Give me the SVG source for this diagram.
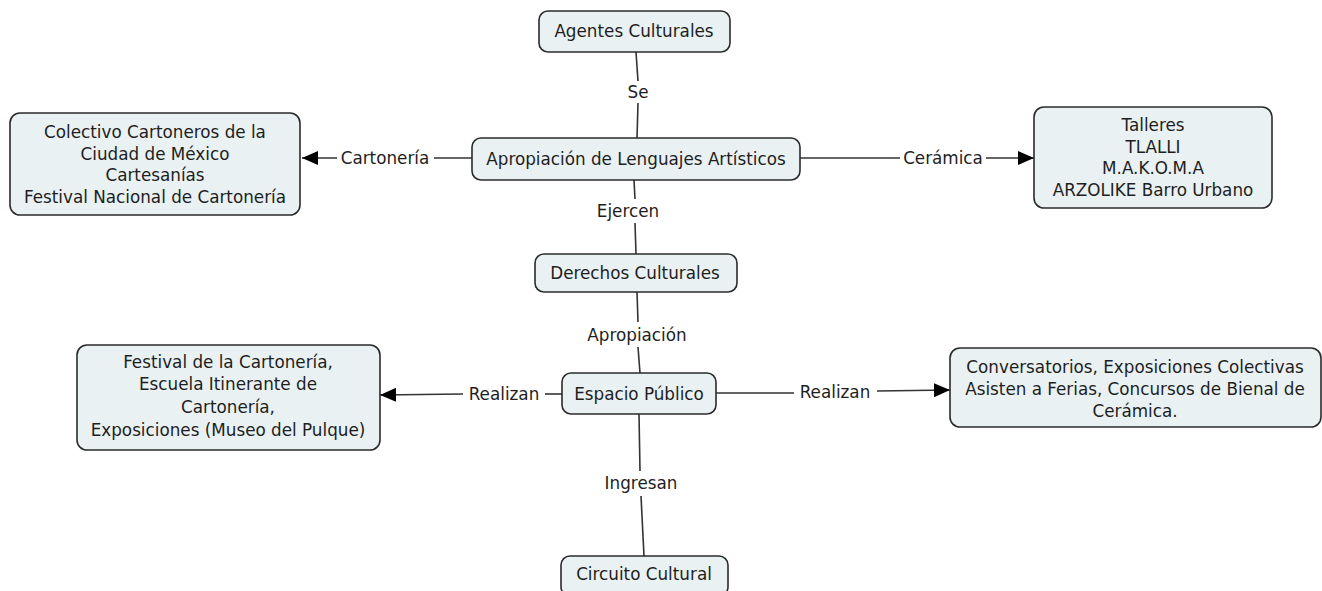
<svg xmlns="http://www.w3.org/2000/svg" width="1322" height="591" viewBox="0 0 1322 591">
<defs>
<style>
.box{fill:#e9f1f3;stroke:#2b2b2b;stroke-width:1.6}
.t{font-family:"DejaVu Sans",Verdana,sans-serif;font-size:16.8px;fill:#1e1e1e;text-anchor:middle}
.c{stroke:#333;stroke-width:1.6;fill:none}
</style>
<marker id="arr" markerUnits="userSpaceOnUse" markerWidth="18" markerHeight="14" refX="16" refY="7" orient="auto">
<path d="M0,0 L16,7 L0,14 Z" fill="#000"/>
</marker>
</defs>
<rect width="1322" height="591" fill="#fff"/>
<g id="connectors">
<path class="c" d="M636,52 L638,81"/>
<path class="c" d="M638,103 L637,138"/>
<text class="t" x="638" y="98">Se</text>
<path class="c" d="M472,158 L434,158"/>
<path class="c" d="M337,158 L302,158" marker-end="url(#arr)"/>
<text class="t" x="385" y="164">Cartonería</text>
<path class="c" d="M800,158 L900,158"/>
<path class="c" d="M986,158 L1034,158" marker-end="url(#arr)"/>
<text class="t" x="943" y="164">Cerámica</text>
<path class="c" d="M634,180 L635,199"/>
<path class="c" d="M635,223 L636,254"/>
<text class="t" x="628" y="217">Ejercen</text>
<path class="c" d="M637,292 L638,322"/>
<path class="c" d="M638,347 L640,373"/>
<text class="t" x="637" y="341">Apropiación</text>
<path class="c" d="M562,394 L545,394"/>
<path class="c" d="M463,394 L380,395" marker-end="url(#arr)"/>
<text class="t" x="504" y="400">Realizan</text>
<path class="c" d="M716,393 L794,393"/>
<path class="c" d="M877,391 L950,390" marker-end="url(#arr)"/>
<text class="t" x="835" y="398">Realizan</text>
<path class="c" d="M639,414 L640,471"/>
<path class="c" d="M641,496 L644,556"/>
<text class="t" x="641" y="489">Ingresan</text>
</g>
<g id="agentes">
<rect class="box" x="539" y="11" width="191" height="41" rx="9"/>
<text class="t" x="634" y="37">Agentes Culturales</text>
</g>
<g id="apropiacion">
<rect class="box" x="472" y="138" width="328" height="42" rx="9"/>
<text class="t" x="636" y="165">Apropiación de Lenguajes Artísticos</text>
</g>
<g id="colectivo">
<rect class="box" x="10" y="113" width="290" height="102" rx="10"/>
<text class="t" x="155" y="138">Colectivo Cartoneros de la</text>
<text class="t" x="155" y="160">Ciudad de México</text>
<text class="t" x="155" y="181">Cartesanías</text>
<text class="t" x="155" y="203">Festival Nacional de Cartonería</text>
</g>
<g id="talleres">
<rect class="box" x="1034" y="107" width="238" height="101" rx="10"/>
<text class="t" x="1153" y="131">Talleres</text>
<text class="t" x="1153" y="153">TLALLI</text>
<text class="t" x="1153" y="174">M.A.K.O.M.A</text>
<text class="t" x="1153" y="196">ARZOLIKE Barro Urbano</text>
</g>
<g id="derechos">
<rect class="box" x="535" y="254" width="202" height="38" rx="9"/>
<text class="t" x="635" y="279">Derechos Culturales</text>
</g>
<g id="espacio">
<rect class="box" x="562" y="373" width="154" height="41" rx="9"/>
<text class="t" x="639" y="400">Espacio Público</text>
</g>
<g id="festival">
<rect class="box" x="77" y="345" width="303" height="105" rx="10"/>
<text class="t" x="228" y="368">Festival de la Cartonería,</text>
<text class="t" x="228" y="390">Escuela Itinerante de</text>
<text class="t" x="228" y="413">Cartonería,</text>
<text class="t" x="228" y="436">Exposiciones (Museo del Pulque)</text>
</g>
<g id="conversatorios">
<rect class="box" x="950" y="348" width="371" height="79" rx="10"/>
<text class="t" x="1135" y="373">Conversatorios, Exposiciones Colectivas</text>
<text class="t" x="1135" y="395">Asisten a Ferias, Concursos de Bienal de</text>
<text class="t" x="1135" y="417">Cerámica.</text>
</g>
<g id="circuito">
<rect class="box" x="561" y="556" width="167" height="40" rx="9"/>
<text class="t" x="644" y="580">Circuito Cultural</text>
</g>
</svg>
